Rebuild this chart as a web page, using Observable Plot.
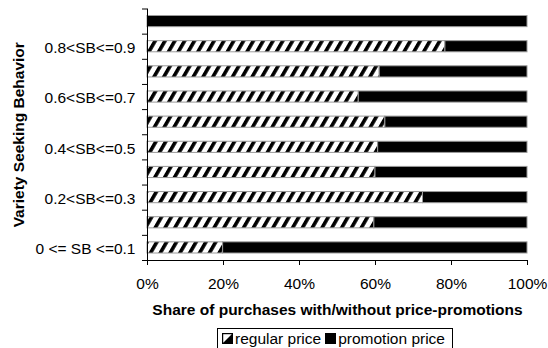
<!DOCTYPE html>
<html>
<head>
<meta charset="utf-8">
<script src="https://cdn.jsdelivr.net/npm/d3@7"></script>
<script src="https://cdn.jsdelivr.net/npm/@observablehq/plot@0.6"></script>
<style>
  body { margin: 0; background: white; font-family: "Liberation Sans", Arial, sans-serif; }
  #legend { display: inline-flex; align-items: center; margin-left: 217px; margin-top: 2px;
    border: 1px solid black; height: 19px; padding: 0 3px 0 4px; font-size: 15.5px; color: black; }
  #legend .sw { width: 9px; height: 9px; border: 1px solid black; margin-right: 2px; display: inline-block; }
  #legend .item { display: inline-flex; align-items: center; margin-right: 4px; }
</style>
</head>
<body>
<div id="chart"></div>
<div id="legend"></div>
<script>
const categories = ["0 <= SB <=0.1", "0.1<SB<=0.2", "0.2<SB<=0.3", "0.3<SB<=0.4", "0.4<SB<=0.5",
                    "0.5<SB<=0.6", "0.6<SB<=0.7", "0.7<SB<=0.8", "0.8<SB<=0.9", "0.9<SB<=1"];
const regularPrice   = [19.9, 59.7, 72.5, 60.0, 60.7, 62.6, 55.6, 61.1, 78.4, 0];
const promotionPrice = [80.1, 40.3, 27.5, 40.0, 39.3, 37.4, 44.4, 38.9, 21.6, 100];
const shownCategories = ["0 <= SB <=0.1", "0.2<SB<=0.3", "0.4<SB<=0.5", "0.6<SB<=0.7", "0.8<SB<=0.9"];
const xTicks = [0, 20, 40, 60, 80, 100];
const seriesNames = ["regular price", "promotion price"];

const rows = [];
categories.forEach((c, i) => {
  rows.push({cat: c, i, series: seriesNames[0], x1: 0, x2: regularPrice[i]});
  rows.push({cat: c, i, series: seriesNames[1], x1: regularPrice[i], x2: regularPrice[i] + promotionPrice[i]});
});
const labelRows = shownCategories.map(c => ({cat: c, i: categories.indexOf(c)}));

const svg = Plot.plot({
  width: 548,
  height: 326,
  marginLeft: 147,
  marginRight: 21,
  marginTop: 8.5,
  marginBottom: 66,
  style: {fontFamily: "Liberation Sans, Arial, sans-serif", fontSize: "15.5px", background: "white", color: "black"},
  x: {domain: [0, 100]},
  y: {domain: [0, categories.length]},
  marks: [
    Plot.rect(rows.filter(d => d.x2 > d.x1), {
      x1: "x1", x2: "x2",
      y1: "i", y2: d => d.i + 1,
      insetTop: 7, insetBottom: 7,
      fill: d => d.series === seriesNames[0] ? "url(#hatch)" : "black",
      stroke: "#9a9a9a", strokeWidth: 1
    }),
    Plot.ruleX([0], {stroke: "black"}),
    Plot.ruleY([0], {stroke: "black"}),
    Plot.axisX({ticks: xTicks, tickFormat: d => d + "%", tickSize: 5, tickPadding: 12, label: null, stroke: "black"}),
    Plot.axisY({ticks: d3.range(0, categories.length + 1), tickFormat: () => "", tickSize: 5, label: null}),
    Plot.text(labelRows, {x: 0, y: d => d.i + 0.5, text: "cat", textAnchor: "end", dx: -12, dy: 1.5, fill: "black"}),
    Plot.text(["Share of purchases with/without price-promotions"], {frameAnchor: "bottom", dy: 54, fontWeight: "bold", fill: "black"}),
    Plot.text(["Variety Seeking Behavior"], {frameAnchor: "left", textAnchor: "middle", lineAnchor: "middle", dx: -128.5, rotate: -90, fontWeight: "bold", fill: "black"})
  ]
});

const defs = d3.select(svg).insert("defs", ":first-child");
const pat = defs.append("pattern").attr("id", "hatch").attr("patternUnits", "userSpaceOnUse")
  .attr("width", 8.5).attr("height", 8.5).attr("patternTransform", "rotate(30)");
pat.append("rect").attr("width", 8.5).attr("height", 8.5).attr("fill", "white");
pat.append("rect").attr("width", 3.6).attr("height", 8.5).attr("fill", "black");

document.getElementById("chart").appendChild(svg);

const legend = document.getElementById("legend");
legend.innerHTML =
  `<span class="item"><svg class="sw" viewBox="0 0 9 9" style="border:none;width:11px;height:11px"><polygon points="9,0 9,9 0,9" fill="black"/><rect x="0.5" y="0.5" width="8" height="8" fill="none" stroke="black"/></svg>${seriesNames[0]}</span>` +
  `<span class="item"><span class="sw" style="background:black"></span>${seriesNames[1]}</span>`;
</script>
</body>
</html>
